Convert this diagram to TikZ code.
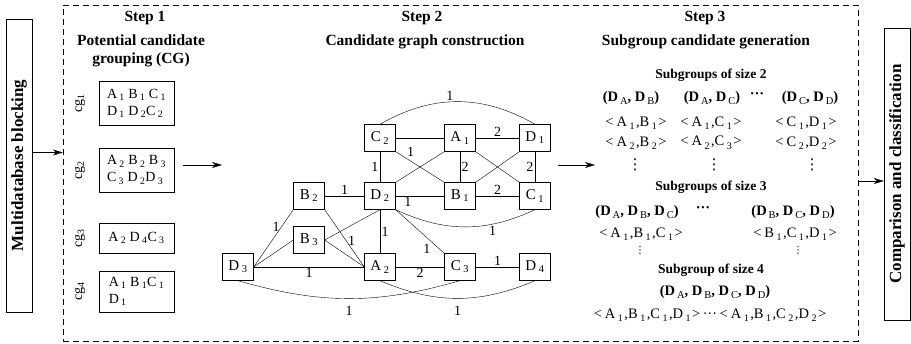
\documentclass[tikz,border=0pt]{standalone}
\usepackage{fontspec}
\setmainfont{Liberation Serif}
\newfontfamily\symfont{DejaVu Sans}
\usetikzlibrary{arrows.meta}

\newcommand{\ix}[2]{#1\,\textsubscript{#2}}
\newcommand{\ia}[2]{#1\hspace{2.5pt}\raisebox{-3.5pt}{\fontsize{10}{10}\selectfont #2}\hspace{1.5pt}}
\newcommand{\dd}[1]{D\hspace{2pt}\raisebox{-3.5pt}{\fontsize{10.5}{10}\selectfont\mdseries #1}}

\tikzset{
  hd/.style={font=\fontsize{15.5}{18}\selectfont\bfseries, inner sep=0pt},
  side/.style={draw, minimum height=26pt, inner sep=0pt, rotate=90, font=\fontsize{17}{17}\selectfont\bfseries},
  cgbox/.style={draw, minimum width=75pt, inner sep=3pt, align=left, font=\fontsize{14}{17}\selectfont},
  cglab/.style={rotate=90, inner sep=0pt, font=\fontsize{14}{14}\selectfont},
  gnode/.style={draw, fill=white, minimum width=31pt, minimum height=27pt, inner sep=0pt, font=\fontsize{15}{15}\selectfont},
  lab/.style={inner sep=1.5pt, font=\fontsize{14}{14}\selectfont},
  subhd/.style={inner sep=0pt, font=\fontsize{13.5}{14}\selectfont\bfseries},
  tup/.style={inner sep=0pt, font=\fontsize{14.5}{14}\selectfont\bfseries},
  pr/.style={inner sep=0pt, font=\fontsize{14.5}{14}\selectfont},
  vd/.style={inner sep=0pt, font=\symfont\fontsize{15}{15}\selectfont},
  arr/.style={-{Stealth[length=10pt,width=6pt]}}
}

\begin{document}
\begin{tikzpicture}[x=1pt,y=1pt]
\useasboundingbox (0,0) rectangle (911,-344);

% Outer boxes
\node[side, minimum width=293pt] (mdb) at (19,-165.5) {Multidatabase blocking};
\node[draw, dash pattern=on 6pt off 4pt, minimum width=795pt, minimum height=336pt, inner sep=0pt] (frame) at (460.5,-173) {};
\node[side, minimum width=292pt] (cmp) at (897,-174) {Comparison and classification};
\draw[arr] ([yshift=13]mdb.south) -- ([yshift=13]mdb.south -| frame.west);
\draw[arr] ([yshift=-8]frame.east) -- ([yshift=-8]frame.east -| cmp.north);

% Step 1
\node[hd] (st1) at (145,-18) {Step 1};
\node[hd, align=center] (st1t) at (141,-51) {Potential candidate\\grouping (CG)};
\node[cgbox, minimum height=44pt] (cg1) at (136.5,-103) {\ix{A}{1}\ \ix{B}{1}\ \ix{C}{1}\\\ix{D}{1}\ \ix{D}{2}\ix{C}{2}};
\node[cgbox, minimum height=44pt] (cg2) at (136.5,-170) {\ix{A}{2}\ \ix{B}{2}\ \ix{B}{3}\\\ix{C}{3}\ \ix{D}{2}\ix{D}{3}};
\node[cgbox, minimum height=30pt] (cg3) at (136.5,-238) {\ix{A}{2}\ \ix{D}{4}\ix{C}{3}};
\node[cgbox, minimum height=41pt] (cg4) at (136.5,-291.5) {\ix{A}{1}\ \ix{B}{1}\ix{C}{1}\\\ix{D}{1}};
\node[cglab] (l1) at (80,-103) {cg\textsubscript{1}};
\node[cglab] (l2) at (80,-170) {cg\textsubscript{2}};
\node[cglab] (l3) at (80,-238) {cg\textsubscript{3}};
\node[cglab] (l4) at (80,-291.5) {cg\textsubscript{4}};
\coordinate (s1out) at (183,-165);
\coordinate (s2in) at (222,-165);
\draw[arr] (s1out) -- (s2in);

% Step 2
\node[hd] (st2) at (422,-18) {Step 2};
\node[hd] (st2t) at (425,-42) {Candidate graph construction};
\node[gnode] (C2) at (380,-138) {\ix{C}{2}};
\node[gnode] (A1) at (460,-138) {\ix{A}{1}};
\node[gnode] (D1) at (535,-138) {\ix{D}{1}};
\node[gnode] (B2) at (309,-196) {\ix{B}{2}};
\node[gnode] (D2) at (380,-196) {\ix{D}{2}};
\node[gnode] (B1) at (460,-196) {\ix{B}{1}};
\node[gnode] (C1) at (535,-196) {\ix{C}{1}};
\node[gnode] (B3) at (309,-240) {\ix{B}{3}};
\node[gnode] (D3) at (238,-267) {\ix{D}{3}};
\node[gnode] (A2) at (380,-267) {\ix{A}{2}};
\node[gnode] (C3) at (460,-267) {\ix{C}{3}};
\node[gnode] (D4) at (535,-267) {\ix{D}{4}};

\draw (C2) -- (A1);
\draw (A1) -- node[lab,above]{2} (D1);
\draw (C2.north) to[out=30,in=150] node[lab,above,pos=0.45]{1} (D1.north);
\draw (C2) -- node[lab,left]{1} (D2);
\draw (A1) -- node[lab,right]{2} (B1);
\draw (D1) -- node[lab,left]{2} (C1);
\draw (C2.south east) -- node[lab,pos=0.2,above right]{1} (B1.north west);
\draw (A1.south west) -- (D2.north east);
\draw (A1.south east) -- (C1.north west);
\draw (D1.south west) -- (B1.north east);
\draw (D2) -- node[lab,pos=0.25,below]{1} (B1);
\draw (B1) -- node[lab,above]{2} (C1);
\draw (D2.south east) to[out=-25,in=-155] node[lab,pos=0.7,below]{1} (C1.south);
\draw (B2) -- node[lab,above]{1} (D2);
\draw (D2) -- node[lab,right]{1} (A2);
\draw (D2.south east) -- node[lab,pos=0.75,below left]{1} (C3.north west);
\draw (B3.east) -- (D2.south);
\draw (B2.south east) -- node[lab,pos=0.55,right]{1} (A2.west);
\draw (B3.east) -- (A2.west);
\draw (D3.east) -- node[lab,pos=0.7,left]{1} (B2.south west);
\draw (D3.east) -- (B3.west);
\draw (D3) -- node[lab,below]{1} (A2);
\draw (A2) -- node[lab,below]{2} (C3);
\draw (C3) -- node[lab,above]{1} (D4);
\draw (D3.south) to[out=-16,in=-164] node[lab,below=6pt]{1} (C3.south);
\draw (A2.south) to[out=-23,in=-157] node[lab,below=6pt]{1} (D4.south);
\coordinate (s2out) at (558,-165);
\coordinate (s3in) at (595,-165);
\draw[arr] (s2out) -- (s3in);

% Step 3
\node[hd] (st3) at (705,-18) {Step 3};
\node[hd] (st3t) at (706,-42) {Subgroup candidate generation};

% size 2
\node[subhd] (sz2) at (711,-75) {Subgroups of size 2};
\node[tup] (t2a) at (631,-98) {(\dd{A}, \dd{B})};
\node[tup] (t2b) at (712,-98) {(\dd{A}, \dd{C})};
\node[tup] (t2c) at (757,-96) {···};
\node[tup] (t2d) at (810,-98) {(\dd{C}, \dd{D})};
\node[pr] (p2a) at (636,-123) {<\hspace{3pt}\ia{A}{1},\ia{B}{1}>};
\node[pr] (p2b) at (711,-123) {<\hspace{3pt}\ia{A}{1},\ia{C}{1}>};
\node[pr] (p2c) at (806,-123) {<\hspace{3pt}\ia{C}{1},\ia{D}{1}>};
\node[pr] (q2a) at (636,-143) {<\hspace{3pt}\ia{A}{2},\ia{B}{2}>};
\node[pr] (q2b) at (711,-143) {<\hspace{3pt}\ia{A}{2},\ia{C}{3}>};
\node[pr] (q2c) at (806,-143) {<\hspace{3pt}\ia{C}{2},\ia{D}{2}>};
\node[vd] (v2a) at (635,-165) {⋮};
\node[vd] (v2b) at (714,-165) {⋮};
\node[vd] (v2c) at (812,-165) {⋮};

% size 3
\node[subhd] (sz3) at (711,-187) {Subgroups of size 3};
\node[tup] (t3a) at (637,-212) {(\dd{A}, \dd{B}, \dd{C})};
\node[tup] (t3b) at (703,-210) {···};
\node[tup] (t3c) at (793,-212) {(\dd{B}, \dd{C}, \dd{D})};
\node[pr] (p3a) at (641,-234) {<\hspace{3pt}\ia{A}{1},\ia{B}{1},\ia{C}{1}>};
\node[pr] (p3b) at (795,-234) {<\hspace{3pt}\ia{B}{1},\ia{C}{1},\ia{D}{1}>};
\node[vd, font=\symfont\fontsize{10}{10}\selectfont] (v3a) at (640,-250) {⋮};
\node[vd, font=\symfont\fontsize{10}{10}\selectfont] (v3b) at (798,-250) {⋮};

% size 4
\node[subhd] (sz4) at (711,-270) {Subgroup of size 4};
\node[tup] (t4) at (715,-292) {(\dd{A}, \dd{B}, \dd{C}, \dd{D})};
\node[pr] (p4) at (710,-315) {<\hspace{3pt}\ia{A}{1},\ia{B}{1},\ia{C}{1},\ia{D}{1}>\,···\,<\hspace{3pt}\ia{A}{1},\ia{B}{1},\ia{C}{2},\ia{D}{2}>};
\end{tikzpicture}
\end{document}
